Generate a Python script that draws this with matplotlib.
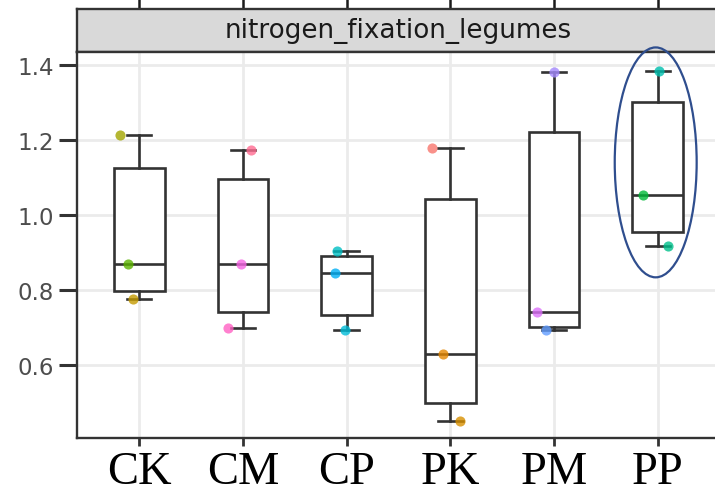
import matplotlib
matplotlib.use("Agg")
import matplotlib.pyplot as plt
from matplotlib.patches import Ellipse

# ---- data ----
groups = ["CK", "CM", "CP", "PK", "PM", "PP"]
whisker_low = [0.775, 0.697, 0.6925, 0.451, 0.693, 0.917]
q1 = [0.796, 0.740, 0.733, 0.497, 0.702, 0.953]
median = [0.870, 0.8685, 0.846, 0.630, 0.742, 1.0525]
q3 = [1.1245, 1.095, 0.8907, 1.042, 1.220, 1.302]
whisker_high = [1.2125, 1.1725, 0.904, 1.177, 1.381, 1.384]

point_values = [
    [1.2125, 0.870, 0.775],
    [1.1725, 0.8685, 0.697],
    [0.904, 0.846, 0.6925],
    [1.177, 0.630, 0.451],
    [1.381, 0.742, 0.693],
    [1.384, 1.0525, 0.917],
]
point_jitter = [
    [-0.19, -0.107, -0.059],
    [0.081, -0.015, -0.145],
    [-0.093, -0.109, -0.019],
    [-0.176, -0.070, 0.091],
    [0.0, -0.167, -0.073],
    [0.015, -0.145, 0.096],
]
point_colors = [
    ["#A3A500", "#5BB300", "#C49A00"],
    ["#FF6C91", "#F564E3", "#FF61C3"],
    ["#00BFC4", "#00B0F6", "#00BCD8"],
    ["#F8766D", "#E58700", "#D89000"],
    ["#A58AFF", "#DC71FA", "#619CFF"],
    ["#00C0AF", "#00BA38", "#00C08B"],
]
y_ticks = [0.6, 0.8, 1.0, 1.2, 1.4]
y_tick_labels = ["0.6", "0.8", "1.0", "1.2", "1.4"]
strip_title = "nitrogen_fixation_legumes"

# ---- figure ----
W, H = 715, 489
fig = plt.figure(figsize=(W / 100, H / 100), dpi=100)

left_px, right_px = 77, 720
top_px, bottom_px = 53, 439.3
strip_top_px = 10

# strip (drawn first, below the panel's overlays)
sax = fig.add_axes([left_px / W, (H - top_px) / H,
                    (right_px - left_px) / W, (top_px - strip_top_px) / H])
sax.set_zorder(1)
sax.set_facecolor("#D9D9D9")
sax.set_xlim(0.4, 6.6)
sax.set_ylim(0, 1)
positions = list(range(1, len(groups) + 1))
sax.set_xticks(positions)
sax.set_yticks([])
sax.tick_params(axis="x", bottom=False, top=True, labelbottom=False,
                labeltop=False, length=7, width=1.8, color="#1A1A1A")
for s in sax.spines.values():
    s.set_color("#333333")
    s.set_linewidth(1.7)
sax.text(3.5, 0.5, strip_title, ha="center", va="center", fontsize=18.9,
         color="#1A1A1A", fontfamily="DejaVu Sans")

ax = fig.add_axes([left_px / W, (H - bottom_px) / H,
                   (right_px - left_px) / W, (bottom_px - top_px) / H])
ax.set_zorder(2)
ax.patch.set_facecolor("white")

ax.set_xlim(0.4, 6.6)
ax.set_ylim(0.404, 1.434)
ax.set_axisbelow(True)
ax.grid(True, color="#EBEBEB", linewidth=2.0)

stats = []
for i, g in enumerate(groups):
    stats.append(dict(label=g, whislo=whisker_low[i], q1=q1[i], med=median[i],
                      q3=q3[i], whishi=whisker_high[i], fliers=[]))
line_kw = dict(color="#333333", linewidth=1.9)
ax.bxp(stats, positions=positions, widths=0.49, showfliers=False,
       patch_artist=True,
       boxprops=dict(facecolor="white", edgecolor="#333333", linewidth=1.9),
       medianprops=line_kw, whiskerprops=line_kw, capprops=line_kw,
       capwidths=0.235, manage_ticks=False)

for i in range(len(groups)):
    for v, j, c in zip(point_values[i], point_jitter[i], point_colors[i]):
        ax.plot(positions[i] + j, v, "o", color=c, markersize=7.3,
                markeredgewidth=0, alpha=0.8, zorder=5)

ax.add_patch(Ellipse((5.98, 1.1397), 0.79, 0.613, fill=False,
                     edgecolor="#2F4E8E", linewidth=1.6, zorder=6,
                     clip_on=False))

ax.set_xticks(positions)
ax.set_xticklabels(groups, fontfamily="Liberation Serif", fontsize=33.5,
                   color="black")
ax.set_yticks(y_ticks)
ax.set_yticklabels(y_tick_labels, fontsize=16.5, color="#4D4D4D",
                   fontfamily="DejaVu Sans")
ax.tick_params(axis="y", length=13, width=2.2, color="#333333", pad=3.5)
ax.tick_params(axis="x", length=6, width=2.0, color="#333333", pad=2.5)
for s in ax.spines.values():
    s.set_color("#333333")
    s.set_linewidth(1.7)

fig.savefig("out.png", dpi=100)
